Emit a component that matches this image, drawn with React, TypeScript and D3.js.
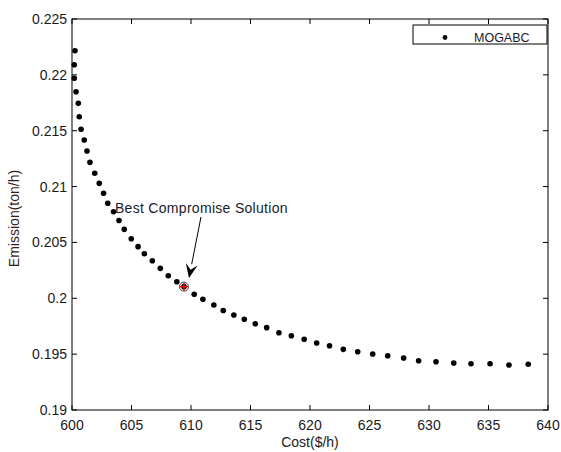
import React from "react";
import * as d3 from "d3";

// Pareto front
const cost = [
  600.25, 600.19, 600.19, 600.34, 600.53, 600.61, 600.76, 601.03, 601.26, 601.51,
  601.91, 602.29, 602.65, 603.0, 603.49, 603.95, 604.39, 604.98, 605.55, 606.08,
  606.75, 607.42, 608.09, 608.81, 609.41, 610.27, 611.0, 611.92, 612.71, 613.6,
  614.48, 615.4, 616.36, 617.39, 618.43, 619.51, 620.56, 621.64, 622.8, 624.01,
  625.27, 626.53, 627.87, 629.13, 630.59, 632.08, 633.53, 635.13, 636.72, 638.34,
];
const emission = [
  0.22216, 0.22091, 0.21969, 0.21849, 0.21745, 0.21625, 0.21513, 0.21417, 0.21318, 0.21217,
  0.21119, 0.21029, 0.2094, 0.20851, 0.20775, 0.20696, 0.20617, 0.20533, 0.20462, 0.20399,
  0.20336, 0.20268, 0.20202, 0.20148, 0.20104, 0.20036, 0.19992, 0.1994, 0.19891, 0.1985,
  0.19812, 0.19772, 0.19737, 0.19692, 0.19665, 0.19633, 0.196, 0.19575, 0.19543, 0.19522,
  0.19501, 0.19486, 0.19465, 0.19441, 0.19432, 0.19421, 0.19414, 0.19414, 0.19403, 0.19409,
];

const best = { cost: 609.41, emission: 0.20104 };
const annotation = "Best Compromise Solution";
const legendLabel = "MOGABC";

const xTicks = [600, 605, 610, 615, 620, 625, 630, 635, 640];
const yTicks = [0.19, 0.195, 0.2, 0.205, 0.21, 0.215, 0.22, 0.225];

const W = 561;
const H = 452;
const box = { left: 72, right: 548, top: 19, bottom: 410 };
const font = "Arial, 'Liberation Sans', sans-serif";
const TICK = 5;

export default function App() {
  const x = d3.scaleLinear().domain([600, 640]).range([box.left, box.right]);
  const y = d3.scaleLinear().domain([0.19, 0.225]).range([box.bottom, box.top]);

  const pts = cost.map((c, i) => ({ c, e: emission[i] }));

  // arrow from label towards the best point
  const ax0 = x(610.84), ay0 = y(0.20728);
  const ax1 = x(609.83), ay1 = y(0.20182);
  const ang = Math.atan2(ay1 - ay0, ax1 - ax0);
  const hl = 14, hw = 6;
  const bx = ax1 - hl * Math.cos(ang), by = ay1 - hl * Math.sin(ang);
  const head = [
    [ax1, ay1],
    [bx + hw * Math.sin(ang), by - hw * Math.cos(ang)],
    [bx + 0.4 * hl * Math.cos(ang), by + 0.4 * hl * Math.sin(ang)],
    [bx - hw * Math.sin(ang), by + hw * Math.cos(ang)],
  ];

  return (
    <svg width={W} height={H} style={{ position: "absolute", left: 0, top: 0, background: "#fff" }} fontFamily={font}>
      <rect x={0} y={0} width={W} height={H} fill="#fff" />

      {/* ticks on all four sides, pointing inward */}
      {xTicks.map((t) => (
        <g key={"x" + t}>
          <line x1={x(t)} x2={x(t)} y1={box.bottom} y2={box.bottom - TICK} stroke="#000" />
          <line x1={x(t)} x2={x(t)} y1={box.top} y2={box.top + TICK} stroke="#000" />
          <text x={x(t)} y={430} fontSize={14} textAnchor="middle" fill="#1a1a1a">{t}</text>
        </g>
      ))}
      {yTicks.map((t) => (
        <g key={"y" + t}>
          <line x1={box.left} x2={box.left + TICK} y1={y(t)} y2={y(t)} stroke="#000" />
          <line x1={box.right} x2={box.right - TICK} y1={y(t)} y2={y(t)} stroke="#000" />
          <text x={67} y={y(t) + 5} fontSize={14} textAnchor="end" fill="#1a1a1a">{d3.format("")(t)}</text>
        </g>
      ))}

      <rect x={box.left} y={box.top} width={box.right - box.left} height={box.bottom - box.top}
        fill="none" stroke="#000" strokeWidth={1} />

      {pts.map((p, i) => (
        <circle key={i} cx={x(p.c)} cy={y(p.e)} r={2.8} fill="#000" />
      ))}

      {/* best compromise marker */}
      <circle cx={x(best.cost)} cy={y(best.emission)} r={4.5} fill="none" stroke="#444" strokeWidth={1} />
      <line x1={x(best.cost) - 4} x2={x(best.cost) + 4} y1={y(best.emission)} y2={y(best.emission)} stroke="#f00" strokeWidth={1.5} />
      <line x1={x(best.cost)} x2={x(best.cost)} y1={y(best.emission) - 4} y2={y(best.emission) + 4} stroke="#f00" strokeWidth={1.5} />

      <line x1={ax0} y1={ay0} x2={bx} y2={by} stroke="#000" strokeWidth={1} />
      <path d={d3.line()(head as [number, number][]) + "Z"} fill="#000" />
      <text x={x(603.61)} y={y(0.20763)} fontSize={14} letterSpacing={0.3} fill="#1a1a2a">{annotation}</text>

      {/* legend */}
      <rect x={413} y={25} width={134} height={19} fill="#fff" stroke="#000" />
      <circle cx={445} cy={37.5} r={2.4} fill="#000" />
      <text x={474} y={42} fontSize={12.5} fill="#1a1a2a">{legendLabel}</text>

      <text x={310} y={447} fontSize={14} textAnchor="middle" fill="#1a1a1a">Cost($/h)</text>
      <text transform={`translate(19,${(box.top + box.bottom) / 2 + 4}) rotate(-90)`} fontSize={14}
        textAnchor="middle" fill="#3a1a1a">Emission(ton/h)</text>
    </svg>
  );
}
